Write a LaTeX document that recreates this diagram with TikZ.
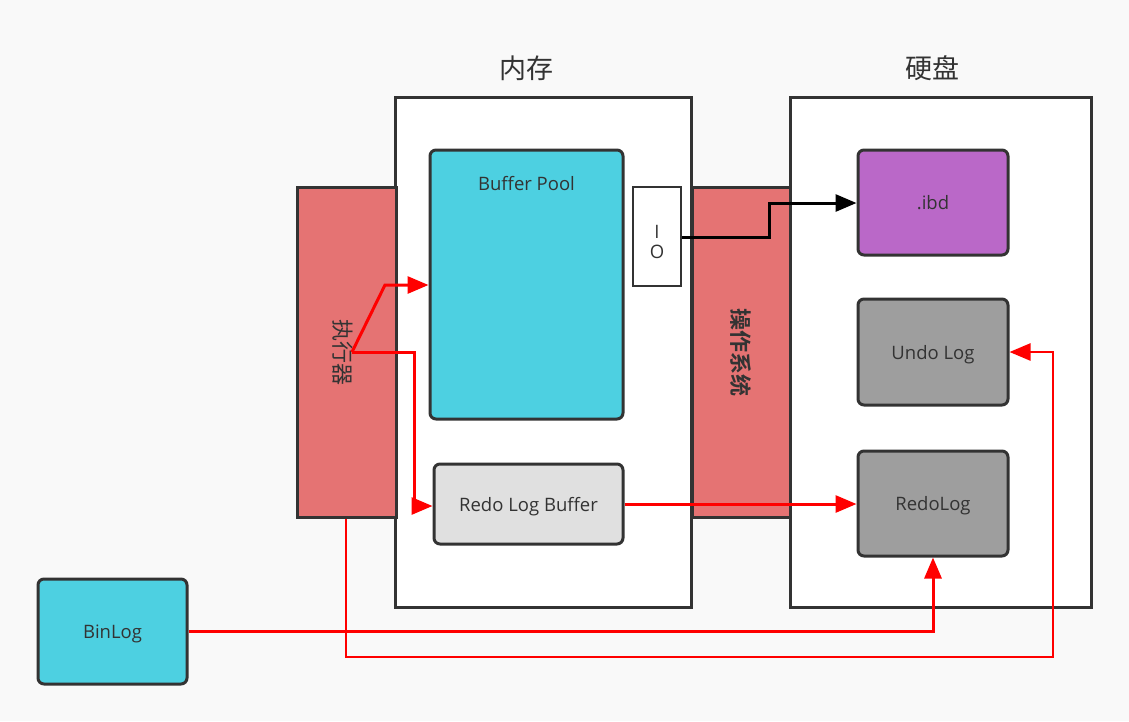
\documentclass[tikz,border=0pt]{standalone}
\usepackage{fontspec}
\setmainfont{Open Sans}
\newfontfamily\cjk{Noto Sans CJK SC}
\newfontfamily\cjkbold{Noto Sans CJK SC Bold}
\usetikzlibrary{arrows.meta}
\definecolor{bg}{RGB}{249,249,249}
\definecolor{edge}{RGB}{51,51,51}
\definecolor{salmon}{RGB}{229,115,115}
\definecolor{cyanbox}{RGB}{77,208,225}
\definecolor{purplebox}{RGB}{186,104,200}
\definecolor{greybox}{RGB}{158,158,158}
\definecolor{lightbox}{RGB}{224,224,224}
\definecolor{txt}{RGB}{51,51,51}
\tikzset{
  box/.style={draw=edge, line width=3pt, inner sep=0pt, text=txt, text depth=0pt, font=\fontsize{18.5}{22}\selectfont},
  rbox/.style={box, rounded corners=6pt},
  redline/.style={draw=red, line width=3pt, -{Triangle[length=21pt,width=17pt]}},
  blackline/.style={draw=black, line width=3pt, -{Triangle[length=21pt,width=17pt]}},
  title/.style={text=txt, font=\cjk\fontsize{27}{30}\selectfont},
  vlabel/.style={text=txt, rotate=-90, font=\cjk\fontsize{22}{24}\selectfont},
  plain/.style={text=txt, font=\fontsize{18.5}{22}\selectfont},
}
\begin{document}
\begin{tikzpicture}[x=1pt,y=-1pt]
\fill[bg] (0,0) rectangle (1129,721);
\useasboundingbox (0,0) rectangle (1129,721);
% big containers
\node[box, fill=white, minimum width=296pt, minimum height=510pt] (mem) at (543,352) {};
\node[box, fill=white, minimum width=301pt, minimum height=510pt] (disk) at (940.5,352) {};
\node[title] (memt) at (526,68) {内存};
\node[title] (diskt) at (932,68) {硬盘};
% executor and OS
\node[box, fill=salmon, minimum width=99pt, minimum height=330pt] (exec) at (346.5,352) {};
\node[vlabel] (execl) at (343,352) {执行器};
\node[box, fill=salmon, minimum width=98pt, minimum height=330pt] (os) at (741,352) {};
\node[vlabel, font=\cjkbold\fontsize{22}{24}\selectfont] (osl) at (741,352) {操作系统};
% memory content
\node[rbox, fill=cyanbox, minimum width=193pt, minimum height=269pt] (bp) at (526.5,284.5) {};
\node[plain] (bpl) at (526.5,184) {Buffer Pool};
\node[box, fill=white, line width=2.5pt, minimum width=48pt, minimum height=99pt] (io) at (657,236.5) {};
\node[plain, align=center, inner sep=0pt] (iol) at (657,242) {I\\[-2pt]O};
\node[rbox, fill=lightbox, minimum width=189pt, minimum height=80pt] (rlb) at (528.5,504) {Redo Log Buffer};
% disk content
\node[rbox, fill=purplebox, minimum width=150pt, minimum height=105pt] (ibd) at (933,202.5) {.ibd};
\node[rbox, fill=greybox, minimum width=150pt, minimum height=106pt] (undo) at (933,352) {Undo Log};
\node[rbox, fill=greybox, minimum width=150pt, minimum height=105pt] (redo) at (933,503.5) {RedoLog};
% binlog
\node[rbox, fill=cyanbox, minimum width=149pt, minimum height=105pt] (bin) at (112.5,631.5) {BinLog};
% connectors
\coordinate (src) at (352,352);
\coordinate (ioout) at (io.east |- 0,237);
\draw[blackline] (ioout) -- (769,237) -- (769,203) -- (ibd.west |- 0,203);
\draw[redline] (src) -- (385,285) -- (bp.west |- 0,285);
\draw[redline] (src) -- (414,352) -- (414,506) -- (rlb.west |- 0,506);
\draw[redline] (rlb.east |- 0,504) -- (redo.west |- 0,504);
\draw[redline] (bin.east |- 0,631) -- (933,631) -- (redo.south);
\draw[redline, line width=2.5pt] (exec.south -| 346,0) -- (346,657) -- (1053,657) -- (1053,352) -- (undo.east);
\end{tikzpicture}
\end{document}
